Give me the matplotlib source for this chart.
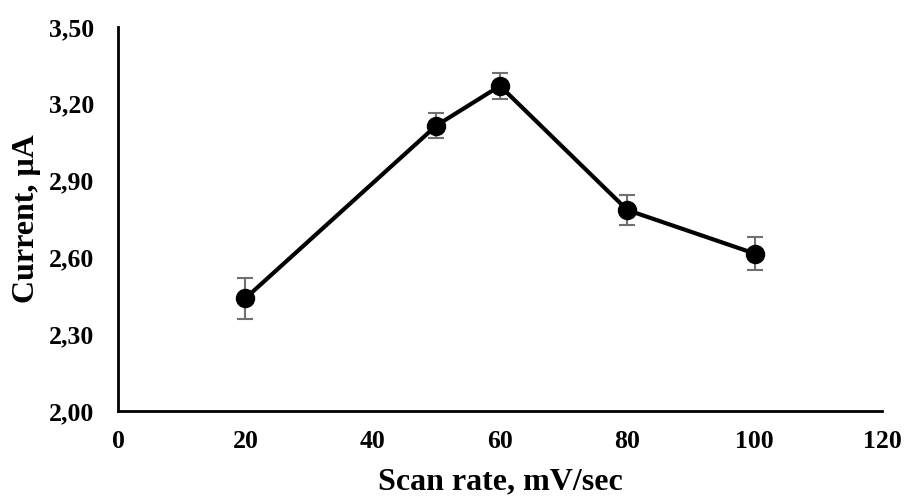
import matplotlib
matplotlib.use('Agg')
import matplotlib.pyplot as plt

# Scan rate (mV/sec) vs current (uA)
scan_rate = [20, 50, 60, 80, 100]
current = [2.44, 3.115, 3.27, 2.785, 2.615]
current_err = [0.08, 0.05, 0.05, 0.06, 0.065]

x_ticks = [0, 20, 40, 60, 80, 100, 120]
y_ticks = [2.00, 2.30, 2.60, 2.90, 3.20, 3.50]

plt.rcParams['font.family'] = ['Liberation Serif', 'DejaVu Serif']
plt.rcParams['font.weight'] = 'bold'

fig = plt.figure(figsize=(9.05, 4.97), dpi=100)
ax = fig.add_axes([0.1304, 0.173, 0.8442, 0.7727])

ax.errorbar(scan_rate, current, yerr=current_err, fmt='none',
            ecolor='#707070', elinewidth=1.5, capsize=6, capthick=1.5, zorder=2)
ax.plot(scan_rate, current, color='black', lw=3, marker='o',
        markersize=13, zorder=3)

ax.set_xlim(0, 120)
ax.set_ylim(2.0, 3.5)
ax.set_xticks(x_ticks)
ax.set_yticks(y_ticks)
ax.set_yticklabels([f'{v:.2f}'.replace('.', ',') for v in y_ticks])
ax.tick_params(length=0, labelsize=18.5)
ax.tick_params(axis='x', pad=14)
ax.tick_params(axis='y', pad=17)
for lab in ax.get_xticklabels() + ax.get_yticklabels():
    lab.set_fontweight('bold')

ax.spines['top'].set_visible(False)
ax.spines['right'].set_visible(False)
ax.spines['left'].set_linewidth(2)
ax.spines['bottom'].set_linewidth(2)

ax.set_xlabel('Scan rate, mV/sec', fontsize=23, fontweight='bold', labelpad=10)
ax.set_ylabel('Current, μA', fontsize=23, fontweight='bold', labelpad=6)

fig.savefig('out.png', dpi=100)
